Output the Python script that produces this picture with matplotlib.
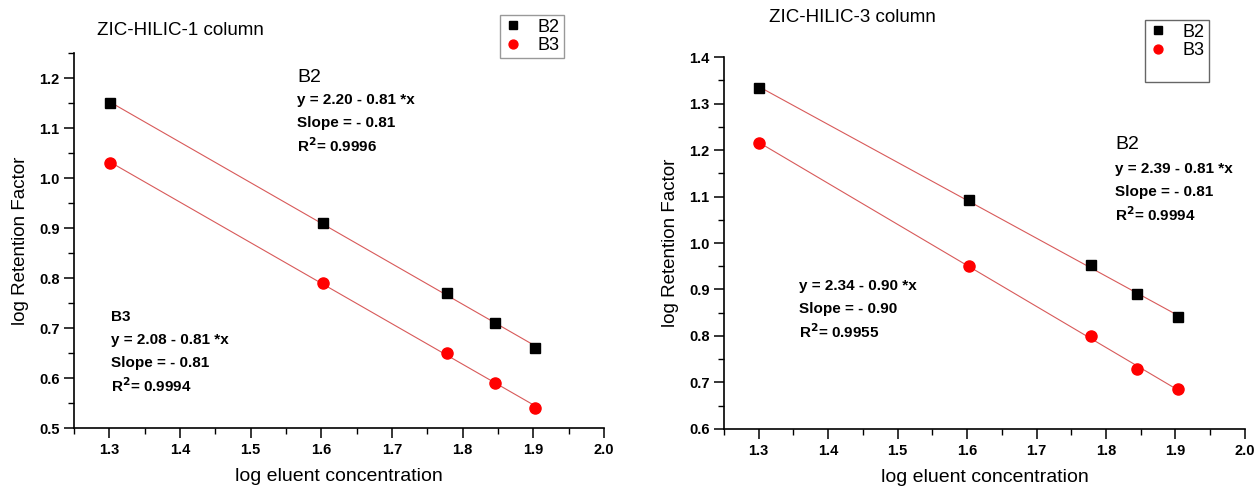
import matplotlib
matplotlib.use("Agg")
import matplotlib.pyplot as plt, numpy as np
from matplotlib.ticker import MultipleLocator

plt.rcParams['font.family'] = ['Liberation Sans', 'DejaVu Sans']

# log eluent concentration
conc = [1.301, 1.602, 1.778, 1.845, 1.903]

# ZIC-HILIC-1
hilic1_b2 = [1.15, 0.91, 0.77, 0.71, 0.66]
hilic1_b3 = [1.03, 0.79, 0.65, 0.59, 0.54]
# ZIC-HILIC-3
hilic3_b2 = [1.333, 1.093, 0.953, 0.89, 0.84]
hilic3_b3 = [1.215, 0.95, 0.80, 0.73, 0.685]

titles = ["ZIC-HILIC-1 column", "ZIC-HILIC-3 column"]
xticks = [1.3, 1.4, 1.5, 1.6, 1.7, 1.8, 1.9, 2.0]


def style_axes(ax, ylim, yticks):
    ax.set_xlim(1.25, 2.0)
    ax.set_ylim(*ylim)
    ax.set_xticks(xticks)
    ax.set_yticks(yticks)
    ax.xaxis.set_minor_locator(MultipleLocator(0.05))
    ax.yaxis.set_minor_locator(MultipleLocator(0.05))
    ax.spines['top'].set_visible(False)
    ax.spines['right'].set_visible(False)
    for s in ['left', 'bottom']:
        ax.spines[s].set_linewidth(1.2)
    ax.tick_params(which='major', direction='out', length=7, width=1.1, labelsize=10.5)
    ax.tick_params(which='minor', direction='out', length=4.5, width=1.0)
    for lab in ax.get_xticklabels() + ax.get_yticklabels():
        lab.set_fontweight('bold')
    ax.set_xlabel("log eluent concentration", fontsize=14, labelpad=8)
    ax.set_ylabel("log Retention Factor", fontsize=13.5, labelpad=7)


def plot_series(ax, b2, b3):
    for y in (b2, b3):
        k, b = np.polyfit(conc, y, 1)
        xs = np.array([conc[0], conc[-1]])
        ax.plot(xs, b + k * xs, color='#d85a5a', lw=0.8, zorder=1)
    ax.plot(conc, b2, 's', color='black', ms=7, label='B2', zorder=3)
    ax.plot(conc, b3, 'o', color='red', ms=8, label='B3', zorder=3)


def fit_text(ax, x, ys, lines):
    for y, t in zip(ys, lines):
        ax.text(x, y, t, fontsize=11, fontweight='bold', va='center', ha='left')


fig = plt.figure(figsize=(12.55, 4.86), dpi=100)

# left panel
ax1 = fig.add_axes([0.059, 0.1193, 0.4223, 0.7716])
plot_series(ax1, hilic1_b2, hilic1_b3)
style_axes(ax1, (0.5, 1.25), [0.5, 0.6, 0.7, 0.8, 0.9, 1.0, 1.1, 1.2])
ax1.text(1.566, 1.202, "B2", fontsize=14, va='center', ha='left')
fit_text(ax1, 1.566, [1.156, 1.11, 1.064],
         ["y = 2.20 - 0.81 *x", "Slope = - 0.81", "R$^{\\mathbf{2}}$= 0.9996"])
fit_text(ax1, 1.303, [0.722, 0.676, 0.63, 0.584],
         ["B3", "y = 2.08 - 0.81 *x", "Slope = - 0.81", "R$^{\\mathbf{2}}$= 0.9994"])
fig.text(97 / 1255, 1 - 30 / 486, titles[0], fontsize=13.5, va='center', ha='left')
leg1 = ax1.legend(loc='upper left', bbox_to_anchor=(500 / 1255, 1 - 15 / 486),
                  bbox_transform=fig.transFigure, fontsize=13, frameon=True,
                  fancybox=False, edgecolor='#808080', handlelength=1.0,
                  handletextpad=0.9, borderpad=0.2, labelspacing=0.1, borderaxespad=0,
                  markerscale=0.8)
leg1.get_frame().set_linewidth(1.0)

# right panel
ax2 = fig.add_axes([0.5769, 0.1173, 0.4151, 0.7654])
plot_series(ax2, hilic3_b2, hilic3_b3)
style_axes(ax2, (0.6, 1.4), [0.6, 0.7, 0.8, 0.9, 1.0, 1.1, 1.2, 1.3, 1.4])
ax2.text(1.813, 1.211, "B2", fontsize=14, va='center', ha='left')
fit_text(ax2, 1.813, [1.159, 1.110, 1.060],
         ["y = 2.39 - 0.81 *x", "Slope = - 0.81", "R$^{\\mathbf{2}}$= 0.9994"])
fit_text(ax2, 1.358, [0.9075, 0.858, 0.809],
         ["y = 2.34 - 0.90 *x", "Slope = - 0.90", "R$^{\\mathbf{2}}$= 0.9955"])
fig.text(769 / 1255, 1 - 18 / 486, titles[1], fontsize=13.5, va='center', ha='left')
h, l = ax2.get_legend_handles_labels()
blank, = ax2.plot([], [], ' ')
leg2 = ax2.legend(h + [blank], l + [''], loc='upper left',
                  bbox_to_anchor=(1145 / 1255, 1 - 20 / 486),
                  bbox_transform=fig.transFigure, fontsize=13, frameon=True,
                  fancybox=False, edgecolor='#404040', handlelength=1.0,
                  handletextpad=0.9, borderpad=0.2, labelspacing=0.1, borderaxespad=0,
                  markerscale=0.8)
leg2.get_frame().set_linewidth(1.0)

fig.savefig("out.png", dpi=100, facecolor='white')
